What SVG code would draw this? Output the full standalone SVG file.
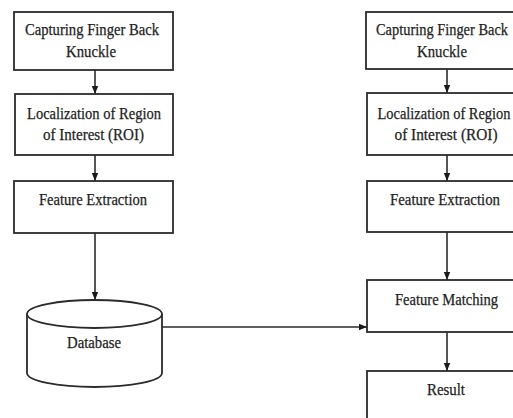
<svg xmlns="http://www.w3.org/2000/svg" width="513" height="418" viewBox="0 0 513 418">
<style>
.box{fill:#fff;stroke:#2b2b2b;stroke-width:1.8}
.t{font-family:"Liberation Serif","Times New Roman",serif;font-size:16.5px;fill:#1e1e1e;stroke:#1e1e1e;stroke-width:0.25;text-anchor:middle}
.c{stroke:#2b2b2b;stroke-width:1.6;fill:none}
</style>
<defs>
<marker id="ah" viewBox="0 0 10 10" refX="10" refY="5" markerWidth="8" markerHeight="8" markerUnits="userSpaceOnUse" orient="auto">
<path d="M0,1 L10,5 L0,9 z" fill="#1a1a1a"/>
</marker>
</defs>
<rect width="513" height="418" fill="#fff"/>
<g id="connectors">
<line class="c" x1="95" y1="70" x2="95" y2="94" marker-end="url(#ah)"/>
<line class="c" x1="95" y1="155" x2="95" y2="181" marker-end="url(#ah)"/>
<line class="c" x1="95" y1="233" x2="95" y2="300" marker-end="url(#ah)"/>
<line class="c" x1="447" y1="69" x2="447" y2="93" marker-end="url(#ah)"/>
<line class="c" x1="447" y1="155" x2="447" y2="181" marker-end="url(#ah)"/>
<line class="c" x1="447" y1="232" x2="447" y2="280" marker-end="url(#ah)"/>
<line class="c" x1="447" y1="332" x2="447" y2="371" marker-end="url(#ah)"/>
<line class="c" x1="162" y1="327" x2="367" y2="327" marker-end="url(#ah)"/>
</g>
<g id="l1"><rect class="box" x="14" y="12" width="159" height="58"/>
<text class="t" x="92" y="35" textLength="134" lengthAdjust="spacingAndGlyphs">Capturing Finger Back</text>
<text class="t" x="91" y="57" textLength="50" lengthAdjust="spacingAndGlyphs">Knuckle</text></g>
<g id="l2"><rect class="box" x="15" y="94" width="158" height="61"/>
<text class="t" x="94" y="119" textLength="134" lengthAdjust="spacingAndGlyphs">Localization of Region</text>
<text class="t" x="93.5" y="140" textLength="101" lengthAdjust="spacingAndGlyphs">of Interest (ROI)</text></g>
<g id="l3"><rect class="box" x="14" y="181" width="159" height="52"/>
<text class="t" x="93" y="205" textLength="108" lengthAdjust="spacingAndGlyphs">Feature Extraction</text></g>
<g id="db">
<path class="box" d="M27,314 L27,373 A67.5,14 0 0 0 162,373 L162,314"/>
<ellipse class="box" cx="94.5" cy="314" rx="67.5" ry="14"/>
<text class="t" x="94" y="348" textLength="54" lengthAdjust="spacingAndGlyphs">Database</text></g>
<g id="r1"><rect class="box" x="366" y="12" width="158" height="57"/>
<text class="t" x="442" y="35" textLength="132" lengthAdjust="spacingAndGlyphs">Capturing Finger Back</text>
<text class="t" x="442" y="57" textLength="50" lengthAdjust="spacingAndGlyphs">Knuckle</text></g>
<g id="r2"><rect class="box" x="367" y="93" width="158" height="62"/>
<text class="t" x="444" y="119" textLength="133" lengthAdjust="spacingAndGlyphs">Localization of Region</text>
<text class="t" x="446" y="140" textLength="103" lengthAdjust="spacingAndGlyphs">of Interest (ROI)</text></g>
<g id="r3"><rect class="box" x="367" y="181" width="158" height="51"/>
<text class="t" x="445" y="205" textLength="110" lengthAdjust="spacingAndGlyphs">Feature Extraction</text></g>
<g id="fm"><rect class="box" x="367" y="280" width="158" height="52"/>
<text class="t" x="446.5" y="305" textLength="103" lengthAdjust="spacingAndGlyphs">Feature Matching</text></g>
<g id="res"><rect class="box" x="367" y="371" width="158" height="60"/>
<text class="t" x="446" y="395" textLength="38" lengthAdjust="spacingAndGlyphs">Result</text></g>
</svg>
